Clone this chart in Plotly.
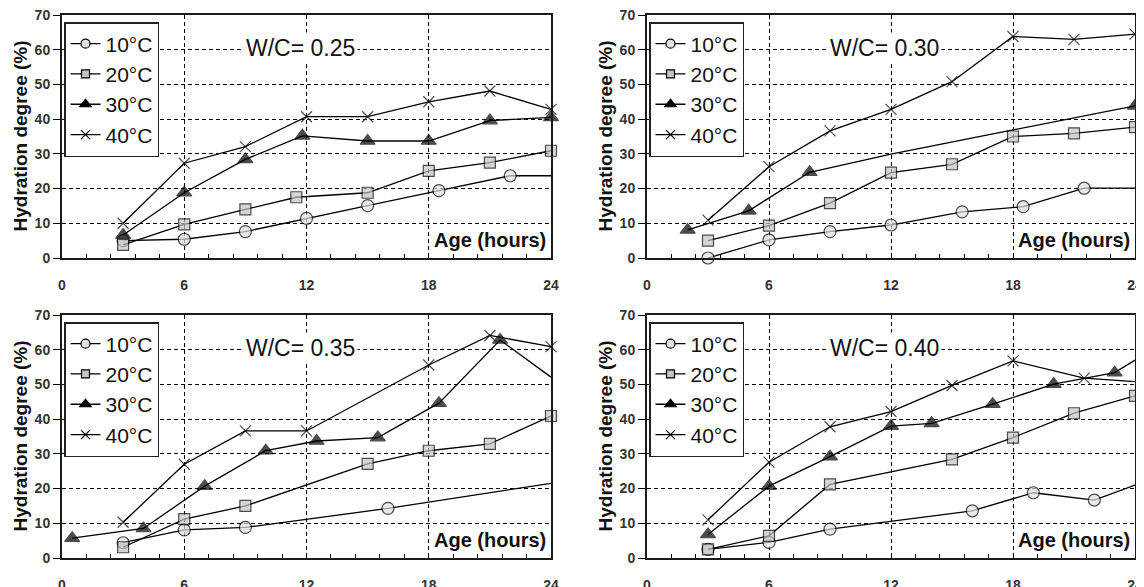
import plotly.graph_objects as go

# hydration degree (%) vs age (hours), 4 water/cement ratios, 4 curing temperatures
temps = ['10°C', '20°C', '30°C', '40°C']
wc_labels = ['W/C= 0.25', 'W/C= 0.30', 'W/C= 0.35', 'W/C= 0.40']

# W/C = 0.25
wc025_10_x = [3, 6, 9, 12, 15, 18.5, 22, 24]
wc025_10_y = [5.0, 5.4, 7.6, 11.4, 15.1, 19.4, 23.7, 23.7]
wc025_20_x = [3, 6, 9, 11.5, 15, 18, 21, 24]
wc025_20_y = [3.8, 9.7, 14.0, 17.5, 18.8, 25.1, 27.5, 30.9]
wc025_30_x = [3, 6, 9, 11.8, 15, 18, 21, 24]
wc025_30_y = [6.6, 18.8, 28.4, 35.2, 33.7, 33.7, 39.6, 40.5]
wc025_40_x = [3, 6, 9, 12, 15, 18, 21, 24]
wc025_40_y = [10.0, 27.3, 32.1, 40.7, 40.7, 45.0, 48.1, 42.8]

# W/C = 0.30
wc030_10_x = [3, 6, 9, 12, 15.5, 18.5, 21.5, 24]
wc030_10_y = [0.0, 5.2, 7.6, 9.5, 13.3, 14.8, 20.1, 20.1]
wc030_20_x = [3, 6, 9, 12, 15, 18, 21, 24]
wc030_20_y = [5.0, 9.3, 15.8, 24.6, 27.0, 35.0, 35.9, 37.7]
wc030_30_x = [2, 5, 8, 12, 18, 24]
wc030_30_y = [8.1, 13.6, 24.7, 29.9, 36.9, 43.8]
wc030_40_x = [3, 6, 9, 12, 15, 18, 21, 24]
wc030_40_y = [10.9, 26.3, 36.6, 42.8, 50.8, 63.8, 63.0, 64.5]

# W/C = 0.35
wc035_10_x = [3, 6, 9, 16, 24]
wc035_10_y = [4.4, 8.1, 8.8, 14.3, 21.5]
wc035_20_x = [3, 6, 9, 15, 18, 21, 24]
wc035_20_y = [3.1, 11.2, 15.0, 27.1, 30.9, 32.9, 40.9]
wc035_30_x = [0.5, 4, 7, 10, 12.5, 15.5, 18.5, 21.5, 24]
wc035_30_y = [5.7, 8.5, 20.7, 30.9, 33.7, 34.7, 44.6, 62.8, 52.1]
wc035_40_x = [3, 6, 9, 12, 18, 21, 24]
wc035_40_y = [10.3, 27.0, 36.6, 36.6, 55.6, 64.1, 60.9]

# W/C = 0.40
wc040_10_x = [3, 6, 9, 16, 19, 22, 24]
wc040_10_y = [2.5, 4.5, 8.3, 13.6, 18.8, 16.7, 21.0]
wc040_20_x = [3, 6, 9, 15, 18, 21, 24]
wc040_20_y = [2.5, 6.4, 21.2, 28.4, 34.7, 41.7, 46.7]
wc040_30_x = [3, 6, 9, 12, 14, 17, 20, 23, 24]
wc040_30_y = [6.8, 20.7, 29.2, 38.0, 38.8, 44.3, 50.1, 53.4, 57.0]
wc040_40_x = [3, 6, 9, 12, 15, 18, 21.5, 24]
wc040_40_y = [11.0, 27.6, 37.8, 42.2, 49.7, 56.8, 51.8, 50.8]

panels = [
    [(wc025_10_x, wc025_10_y), (wc025_20_x, wc025_20_y), (wc025_30_x, wc025_30_y), (wc025_40_x, wc025_40_y)],
    [(wc030_10_x, wc030_10_y), (wc030_20_x, wc030_20_y), (wc030_30_x, wc030_30_y), (wc030_40_x, wc030_40_y)],
    [(wc035_10_x, wc035_10_y), (wc035_20_x, wc035_20_y), (wc035_30_x, wc035_30_y), (wc035_40_x, wc035_40_y)],
    [(wc040_10_x, wc040_10_y), (wc040_20_x, wc040_20_y), (wc040_30_x, wc040_30_y), (wc040_40_x, wc040_40_y)],
]

# points drawn as plain line (no marker) in the original, per panel / series
unmarked = {
    (0, 0): [7],
    (1, 0): [7], (1, 2): [3, 4],
    (2, 0): [4], (2, 2): [8],
    (3, 0): [6], (3, 2): [8], (3, 3): [7],
}

FONT = 'Liberation Sans, Arial, sans-serif'
# the page body has an 8px margin, so the figure is a bit smaller and shifted
OFF = 8
W, H = 1144 - OFF, 587 - OFF
symbols = ['circle', 'square', 'triangle-up', 'x-thin-open']
fills = ['#e0e0e0', '#c4c4c4', 'black', 'black']
sizes = [12, 11, 13, 11]
leg_sizes = [9, 8, 10, 9]

# plot-area pixel boxes in the window (left, right, top, bottom)
boxes = [(62, 551, 15, 258), (647, 1135, 15, 258), (62, 551, 315, 558), (647, 1135, 315, 558)]

fig = go.Figure()
for p, series in enumerate(panels):
    sfx = '' if p == 0 else str(p + 1)
    leg = 'legend' + sfx
    for s, (xs, ys) in enumerate(series):
        msize = [sizes[s]] * len(xs)
        for i in unmarked.get((p, s), []):
            msize[i] = 0
        fig.add_trace(go.Scatter(
            x=xs, y=ys, name=temps[s], mode='lines+markers', showlegend=False,
            xaxis='x' + sfx, yaxis='y' + sfx, cliponaxis=False,
            line=dict(color='black', width=1.3),
            marker=dict(symbol=symbols[s], size=msize, color=fills[s],
                        line=dict(color='black', width=1.2))))
    # legend entries (smaller symbols, as in the original key)
    for s in range(4):
        fig.add_trace(go.Scatter(
            x=[None], y=[None], name=temps[s], mode='lines+markers',
            xaxis='x' + sfx, yaxis='y' + sfx, legend=leg,
            line=dict(color='black', width=1.3),
            marker=dict(symbol=symbols[s], size=leg_sizes[s], color=fills[s],
                        line=dict(color='black', width=1.2))))

    l, r, t, b = [v - OFF for v in boxes[p]]
    grid = dict(showgrid=True, gridcolor='black', griddash='4px,3px', gridwidth=1.3,
                showline=True, linecolor='#1a1a1a', linewidth=2, mirror=True, zeroline=False,
                automargin=False, ticklabeloverflow='allow',
                tickfont=dict(family=FONT, size=14, color='#333', weight='bold'))
    fig.update_layout(**{
        'xaxis' + sfx: dict(domain=[l / W, r / W], anchor='y' + sfx, range=[0, 24], tick0=0, dtick=6,
                            ticks='inside', ticklen=4, tickcolor='black', ticklabelstandoff=13,
                            minor=dict(dtick=1.2, tick0=0, ticks='inside', ticklen=4, tickcolor='black',
                                       showgrid=False), **grid),
        'yaxis' + sfx: dict(domain=[1 - b / H, 1 - t / H], anchor='x' + sfx, range=[0, 70], dtick=10,
                            ticks='outside', ticklen=7, tickcolor='black', **grid),
        leg: dict(x=(l + 2) / W, y=1 - (t + 7) / H, xanchor='left', yanchor='top',
                  bgcolor='white', bordercolor='#222', borderwidth=1.5,
                  font=dict(family=FONT, size=21, color='#111'), tracegroupgap=0),
    })
    fig.add_annotation(x=(l - 42) / W, y=1 - (t + b) / 2 / H, xref='paper', yref='paper',
                       xanchor='center', yanchor='middle',
                       text='Hydration degree (%)', textangle=-90, showarrow=False,
                       font=dict(family=FONT, size=19, color='#111', weight='bold'))
    fig.add_annotation(x=11.7, y=60.5, xref='x' + sfx, yref='y' + sfx, text=wc_labels[p],
                       showarrow=False, bgcolor='white', borderpad=2,
                       font=dict(family=FONT, size=23, color='#111'))
    fig.add_annotation(x=23.85, y=5.3, xref='x' + sfx, yref='y' + sfx, text='Age (hours)',
                       xanchor='right', showarrow=False, bgcolor='white', borderpad=1,
                       font=dict(family=FONT, size=20, color='#111', weight='bold'))

fig.update_layout(width=W, height=H, margin=dict(l=0, r=0, t=0, b=0),
                  paper_bgcolor='white', plot_bgcolor='white', showlegend=True)
fig.write_html('out.html')
